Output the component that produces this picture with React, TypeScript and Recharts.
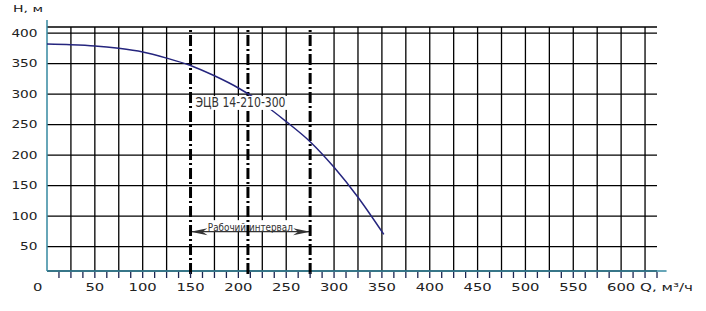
import {
  LineChart,
  Line,
  XAxis,
  YAxis,
  CartesianGrid,
  ReferenceLine,
  ReferenceDot,
} from "recharts";

const FONT = "'DejaVu Sans', sans-serif";
const INK = "#222";
const TEAL = "#3489a0";
const CURVE = "#25257e";

// pump curve H(Q)
const flowQ = [0, 25, 50, 75, 100, 125, 150, 175, 200, 225, 250, 275, 300, 325, 352];
const headH = [382, 381, 379, 375, 369, 359, 347, 330, 310, 285, 255, 222, 180, 131, 70];

const qLabels = [0, 50, 100, 150, 200, 250, 300, 350, 400, 450, 500, 550, 600];
const qTicks = Array.from({ length: 52 }, (_, i) => i * 12.5);
const qGrid = [25, 50, 75, 100, 125, 175, 200, 225, 250, 300, 325, 350, 375, 400, 425, 450, 475, 500, 525, 550, 575, 600, 625];
const hTicks = [50, 100, 150, 200, 250, 300, 350, 400];

const markQ = [150, 210, 275];
const workRange = [150, 275];
const pumpName = "ЭЦВ 14-210-300";

const data = flowQ.map((q, i) => ({ q, h: headH[i] }));

function QTick(props: any) {
  const { x, y, payload } = props;
  const v = payload.value;
  const s = String(v);
  return (
    <g>
      {v > 0 && <line x1={x} x2={x} y1={y + 1} y2={y + 7} stroke="#1d2550" strokeWidth={1.3} />}
      {qLabels.includes(v) && (
        <text
          x={v === 0 ? x - 9.3 : x}
          y={y + 20}
          textAnchor="middle"
          fontSize={10}
          fill={INK}
          fontFamily={FONT}
          textLength={s.length * 9.4}
          lengthAdjust="spacingAndGlyphs"
        >
          {s}
        </text>
      )}
      {v === 637.5 && (
        <text x={x - 17} y={y + 20} fontSize={10} fill={INK} fontFamily={FONT} textLength={53} lengthAdjust="spacingAndGlyphs">
          Q, м³/ч
        </text>
      )}
    </g>
  );
}

function HTick(props: any) {
  const { x, y, payload } = props;
  const s = String(payload.value);
  return (
    <g>
      <text
        x={x - 9.5}
        y={y + 3.7}
        textAnchor="end"
        fontSize={10}
        fill={INK}
        fontFamily={FONT}
        textLength={s.length * 8.7}
        lengthAdjust="spacingAndGlyphs"
      >
        {s}
      </text>
      {payload.value === 400 && (
        <text x={x - 34} y={y - 21.5} fontSize={8.5} fill={INK} fontFamily={FONT} textLength={30} lengthAdjust="spacingAndGlyphs">
          Н, м
        </text>
      )}
    </g>
  );
}

function IntervalArrow(p: any) {
  const { x1, x2, y1 } = p;
  const y = y1;
  const mid = (x1 + x2) / 2;
  return (
    <g>
      <line x1={x1} x2={x2} y1={y} y2={y} stroke="#333" strokeWidth={1.2} />
      <path d={`M${x1},${y} L${x1 + 17},${y - 3.5} L${x1 + 12},${y} L${x1 + 17},${y + 3.5}Z`} fill="#333" />
      <path d={`M${x2},${y} L${x2 - 17},${y - 3.5} L${x2 - 12},${y} L${x2 - 17},${y + 3.5}Z`} fill="#333" />
      <rect x={mid - 43} y={y - 11.5} width={86} height={10.5} fill="#fff" />
      <text
        x={mid}
        y={y - 1}
        textAnchor="middle"
        fontSize={11}
        fill="#333"
        fontFamily={FONT}
        textLength={85}
        lengthAdjust="spacingAndGlyphs"
      >
        Рабочий интервал
      </text>
    </g>
  );
}

function PumpLabel(p: any) {
  const { cx, cy } = p;
  return (
    <g>
      <rect x={cx + 3} y={cy - 11} width={95} height={14} fill="#fff" />
      <text
        x={cx + 5}
        y={cy}
        fontSize={14}
        fill="#333"
        fontFamily={FONT}
        textLength={90}
        lengthAdjust="spacingAndGlyphs"
      >
        {pumpName}
      </text>
    </g>
  );
}

export default function App() {
  return (
    <div style={{ position: "absolute", left: 0, top: 0, background: "#fff" }}>
      <LineChart width={706} height={311} data={data} margin={{ top: 27, right: 49, bottom: 0, left: 0 }}>
        <CartesianGrid vertical={false} stroke="#000" strokeWidth={1.3} />
        <XAxis
          dataKey="q"
          type="number"
          domain={[0, 637.5]}
          ticks={qTicks}
          interval={0}
          allowDecimals
          height={40}
          axisLine={false}
          tickLine={false}
          tickSize={0}
          tickMargin={0}
          tick={<QTick />}
        />
        <YAxis
          type="number"
          domain={[10, 410]}
          ticks={hTicks}
          interval={0}
          width={47}
          axisLine={false}
          tickLine={false}
          tickSize={0}
          tickMargin={0}
          tick={<HTick />}
        />
        {qGrid.map((q) => (
          <ReferenceLine key={q} x={q} stroke="#000" strokeWidth={1.3} />
        ))}
        <ReferenceLine
          segment={[{ x: 0, y: 10 }, { x: 0, y: 421.5 }]}
          stroke={TEAL}
          strokeWidth={1.5}
          ifOverflow="visible"
        />
        <ReferenceLine
          segment={[{ x: 0, y: 10 }, { x: 647.5, y: 10 }]}
          stroke={TEAL}
          strokeWidth={1.5}
          ifOverflow="visible"
        />
        <ReferenceDot x={workRange[0]} y={279} r={0} ifOverflow="visible" shape={(p: any) => <PumpLabel {...p} />} />
        <ReferenceLine
          segment={[{ x: workRange[0], y: 74.5 }, { x: workRange[1], y: 74.5 }]}
          ifOverflow="visible"
          shape={(p: any) => <IntervalArrow {...p} />}
        />
        {markQ.map((q) => (
          <ReferenceLine
            key={"m" + q}
            segment={[{ x: q, y: 5 }, { x: q, y: 410 }]}
            stroke="#000"
            strokeWidth={3}
            strokeDasharray="11 3 2 3"
            ifOverflow="visible"
          />
        ))}
        <Line
          type="monotone"
          dataKey="h"
          stroke={CURVE}
          strokeWidth={1.5}
          dot={false}
          isAnimationActive={false}
        />
      </LineChart>
    </div>
  );
}
